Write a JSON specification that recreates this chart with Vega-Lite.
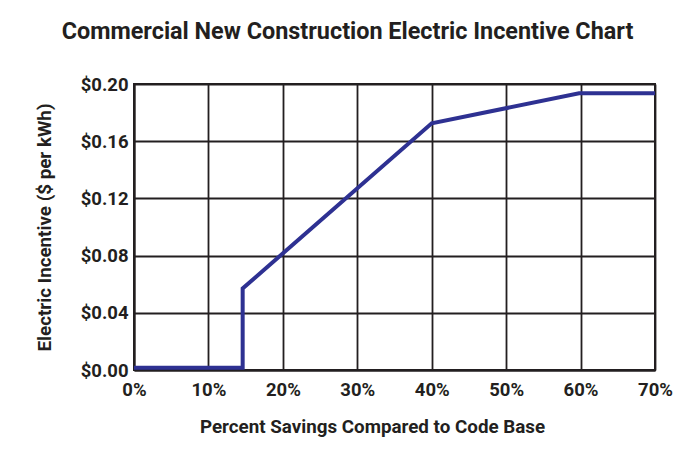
{
  "$schema": "https://vega.github.io/schema/vega-lite/v6.json",
  "width": 521,
  "height": 286,
  "autosize": "none",
  "padding": {"left": 134, "top": 84, "right": 42, "bottom": 82},
  "background": "white",
  "title": {
    "text": "Commercial New Construction Electric Incentive Chart",
    "font": "Roboto",
    "fontSize": 23.4,
    "fontWeight": "bold",
    "color": "#231f20",
    "anchor": "middle",
    "dx": -47,
    "offset": 31
  },
  "data": {
    "values": [
      {"savings": 0, "incentive": 0.0015},
      {"savings": 14.6, "incentive": 0.0015},
      {"savings": 14.6, "incentive": 0.057},
      {"savings": 40, "incentive": 0.1725},
      {"savings": 59.8, "incentive": 0.1935},
      {"savings": 70, "incentive": 0.1935}
    ]
  },
  "mark": {"type": "line", "color": "#2e3192", "strokeWidth": 4, "strokeJoin": "miter", "strokeCap": "butt"},
  "encoding": {
    "x": {
      "field": "savings",
      "type": "quantitative",
      "scale": {"domain": [0, 70], "nice": false, "zero": false},
      "axis": {
        "title": "Percent Savings Compared to Code Base",
        "values": [0, 10, 20, 30, 40, 50, 60, 70],
        "labelExpr": "datum.value + '%'",
        "labelFlush": false,
        "ticks": false,
        "labelPadding": 10,
        "titlePadding": 19,
        "titleX": 238
      }
    },
    "y": {
      "field": "incentive",
      "type": "quantitative",
      "scale": {"domain": [0, 0.2], "nice": false},
      "axis": {
        "title": "Electric Incentive ($ per kWh)",
        "values": [0, 0.04, 0.08, 0.12, 0.16, 0.2],
        "format": "$.2f",
        "labelFlush": false,
        "ticks": false,
        "labelPadding": 6,
        "titlePadding": 26
      }
    }
  },
  "config": {
    "view": {"stroke": "#231f20", "strokeWidth": 2},
    "axis": {
      "grid": true,
      "gridColor": "#231f20",
      "gridWidth": 1.8,
      "gridOpacity": 1,
      "domainColor": "#231f20",
      "domainWidth": 2,
      "labelFont": "Roboto",
      "labelFontSize": 18.5,
      "labelFontWeight": "bold",
      "labelColor": "#231f20",
      "titleFont": "Roboto",
      "titleFontSize": 18.8,
      "titleFontWeight": "bold",
      "titleColor": "#231f20"
    }
  }
}
